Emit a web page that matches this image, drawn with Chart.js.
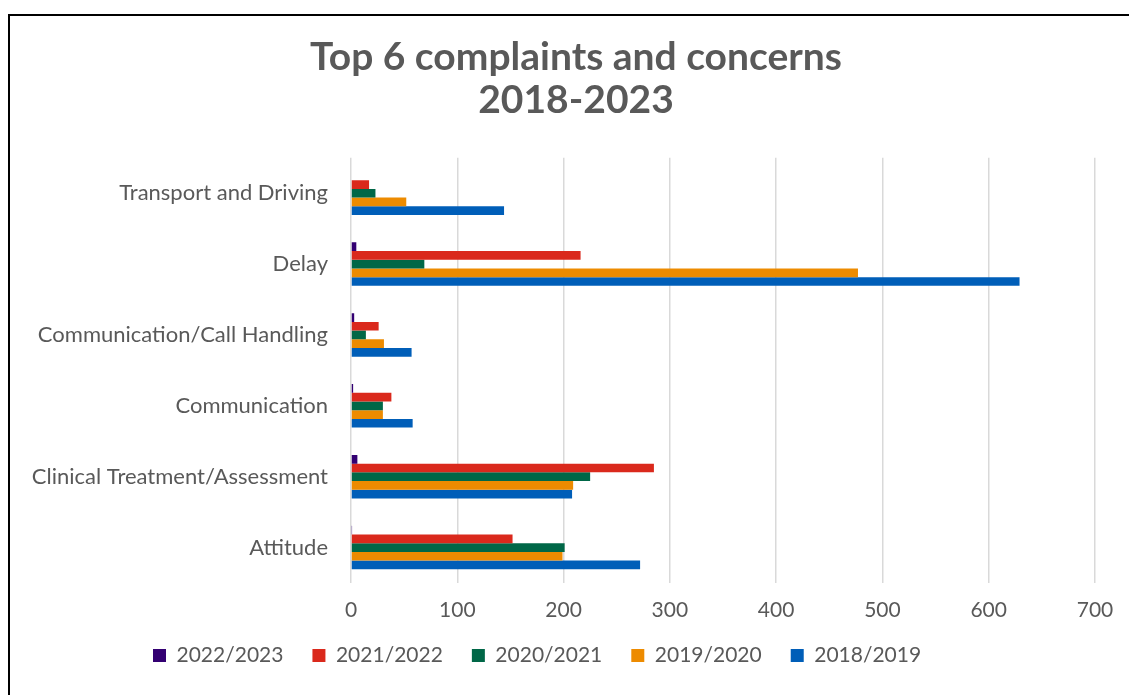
<!DOCTYPE html>
<html>
<head>
<meta charset="utf-8">
<script src="https://cdn.jsdelivr.net/npm/chart.js@4.4.0/dist/chart.umd.min.js"></script>
<style>
  html, body { margin: 0; padding: 0; background: #fff; }
  #wrap { position: relative; width: 1129px; height: 695px; overflow: hidden; }
  #frame { position: absolute; left: 8px; top: 14px; width: 1200px; height: 700px;
           border-left: 2px solid #000; border-top: 2px solid #000; }
  #chart { position: absolute; left: 0; top: 0; }
</style>
</head>
<body>
<div id="wrap">
  <div id="frame"></div>
  <canvas id="chart" width="1129" height="695"></canvas>
</div>
<script>
const categories = [
  "Transport and Driving",
  "Delay",
  "Communication/Call Handling",
  "Communication",
  "Clinical Treatment/Assessment",
  "Attitude"
];

const seriesNames = ["2022/2023", "2021/2022", "2020/2021", "2019/2020", "2018/2019"];

const vals2022 = [0, 5, 3, 2, 6, 1];
const vals2021 = [17, 216, 26, 38, 285, 152];
const vals2020 = [23, 69, 14, 30, 225, 201];
const vals2019 = [52, 477, 31, 30, 209, 199];
const vals2018 = [144, 629, 57, 58, 208, 272];

const xTicks = [0, 100, 200, 300, 400, 500, 600, 700];

const colours = ["#330072", "#DA291C", "#006747", "#ED8B00", "#005EB8"];
const allVals = [vals2022, vals2021, vals2020, vals2019, vals2018];

const textGrey = "#595959";
const fontName = "Lato, 'Open Sans', sans-serif";

// title and legend are not centred on the plot in the original, pin them
const blockPin = {
  id: 'blockPin',
  afterLayout(chart) {
    chart.titleBlock.left = 23;
    chart.titleBlock.right = 1129;
    chart.legend.left = 124;
    chart.legend.top = 616;
  }
};

const ctx = document.getElementById('chart').getContext('2d');

new Chart(ctx, {
  type: 'bar',
  data: {
    labels: categories,
    datasets: seriesNames.map((name, i) => ({
      label: name,
      data: allVals[i],
      backgroundColor: colours[i],
      borderWidth: 0,
      barPercentage: 1,
      categoryPercentage: 0.614
    }))
  },
  plugins: [blockPin],
  options: {
    indexAxis: 'y',
    responsive: false,
    devicePixelRatio: 1,
    animation: false,
    layout: { padding: { left: 10, right: 34, top: 0, bottom: 0 } },
    scales: {
      x: {
        min: 0,
        max: 700,
        afterBuildTicks: s => { s.ticks = xTicks.map(v => ({ value: v })); },
        afterFit: s => { s.height = 52; },
        grid: { color: '#d9d9d9', lineWidth: 1.5, drawTicks: false },
        border: { display: false },
        ticks: { color: textGrey, font: { family: fontName, size: 21 }, padding: 15 }
      },
      y: {
        afterFit: s => { s.width = 341; },
        grid: { display: false, drawTicks: false },
        border: { display: false },
        ticks: { color: textGrey, font: { family: fontName, size: 22 }, padding: 23 }
      }
    },
    plugins: {
      title: {
        display: true,
        text: ["Top 6 complaints and concerns", "2018-2023"],
        color: textGrey,
        font: { family: fontName, size: 39, weight: 'bold', lineHeight: 1.1 },
        padding: { top: 36, bottom: 36 }
      },
      legend: {
        position: 'bottom',
        align: 'start',
        labels: {
          color: textGrey,
          font: { family: fontName, size: 21 },
          boxWidth: 13,
          boxHeight: 13,
          padding: 29
        }
      },
      tooltip: { enabled: false }
    }
  }
});
</script>
</body>
</html>
